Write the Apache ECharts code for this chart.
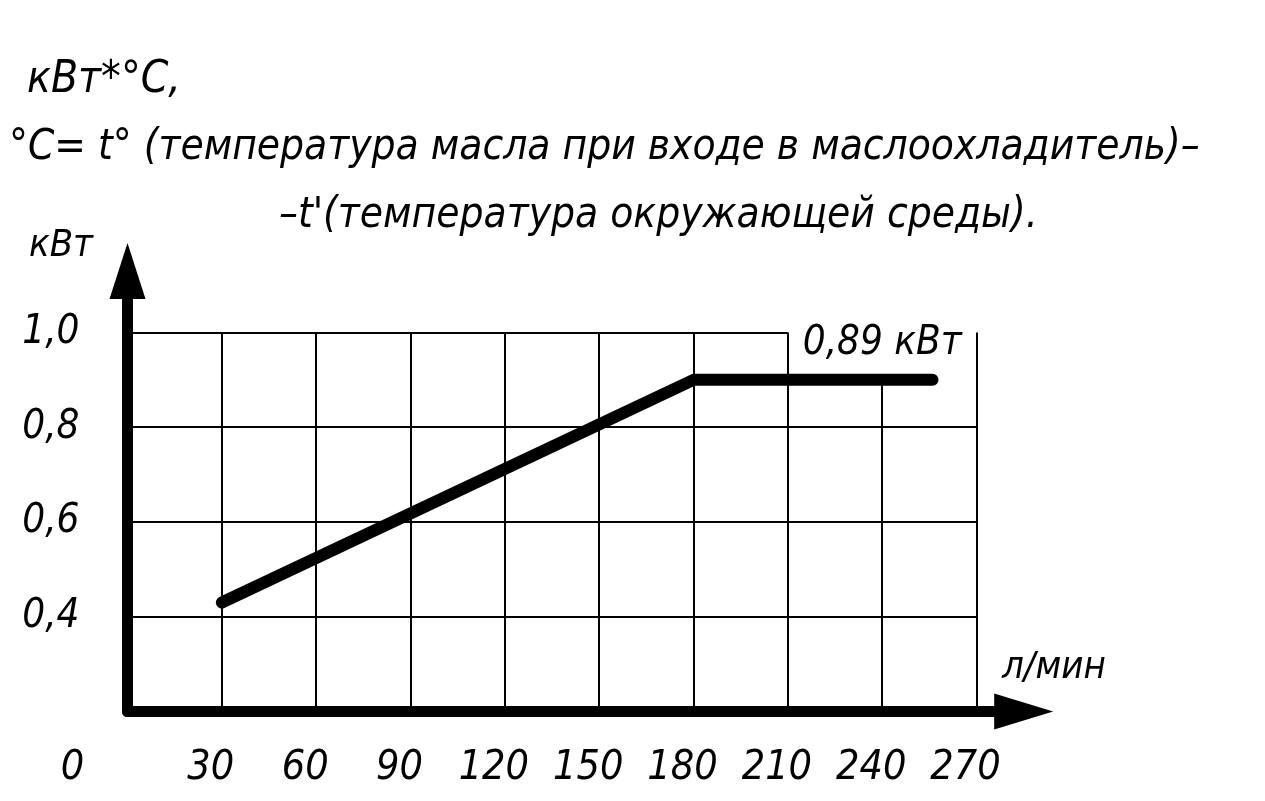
<!DOCTYPE html>
<html>
<head>
<meta charset="utf-8">
<script src="https://cdn.jsdelivr.net/npm/echarts@6/dist/echarts.min.js"></script>
<style>
html,body{margin:0;padding:0;background:#fff;}
#chart{width:1265px;height:801px;}
</style>
</head>
<body>
<div id="chart"></div>
<script>
// ---- data ----
const xTicks = [0, 30, 60, 90, 120, 150, 180, 210, 240, 270];
const yTicks = [0.4, 0.6, 0.8, 1.0];
const flowLpm = [30, 180, 256];
const powerKw = [0.43, 0.90, 0.90];
const ratedLabel = '0,89 кВт';
const ratedAt = [240, 0.90];
const titleLines = [
  'кВт*°С,',
  '°С= t° (температура масла при входе в маслоохладитель)–',
  '–t\'(температура окружающей среды).'
];
const yName = 'кВт';
const xName = 'л/мин';

// ---- styling ----
const FONT = '"DejaVu Sans Condensed", "Liberation Sans Narrow", "Liberation Sans", sans-serif';
const txt = (size) => ({ fontFamily: FONT, fontStyle: 'italic', fontWeight: 'normal', fontSize: size, color: '#000' });

const X_MIN = 0, X_MAX = 285, Y_MIN = 0.2, Y_MAX = 1.13;
const xLast = xTicks[xTicks.length - 1];
const yTop = yTicks[yTicks.length - 1];

// grid lines built from tick arrays (cleared around the rated label)
const gridSegs = [];
xTicks.slice(1).forEach(x => {
  let top = yTop;
  if (x === ratedAt[0]) top = ratedAt[1];
  gridSegs.push([{ coord: [x, Y_MIN] }, { coord: [x, top] }]);
});
yTicks.forEach(y => {
  let right = xLast;
  if (y === yTop) right = 210;
  gridSegs.push([{ coord: [0, y] }, { coord: [right, y] }]);
});

const chart = echarts.init(document.getElementById('chart'), null, { renderer: 'canvas' });
chart.setOption({
  animation: false,
  backgroundColor: '#fff',
  title: [
    { text: titleLines[0], left: 22, top: 54, textStyle: txt(44) },
    { text: titleLines[1], left: 4, top: 122, textStyle: txt(42) },
    { text: titleLines[2], left: 274, top: 190, textStyle: txt(42) },
    { text: yName, left: 24, top: 222, textStyle: txt(38) },
    { text: xName, left: 997, top: 644, textStyle: txt(38) }
  ],
  grid: { left: 127.5, right: 241.3, top: 270.9, bottom: 89.5, containLabel: false },
  xAxis: {
    type: 'value', min: X_MIN, max: X_MAX, interval: 30,
    axisLine: {
      show: true, onZero: false,
      lineStyle: { color: '#000', width: 11 },
      symbol: ['none', 'triangle'], symbolSize: [36, 59]
    },
    axisTick: { show: false },
    splitLine: { show: false },
    axisLabel: {
      margin: 36,
      showMaxLabel: false,
      formatter: v => xTicks.indexOf(v) < 0 ? '' : (v === 0 ? '{z|0}' : '{n|' + v + '}'),
      rich: {
        z: Object.assign(txt(41), { padding: [0, 110, 0, 0] }),
        n: Object.assign(txt(41), { padding: [0, 22, 0, 0] })
      }
    }
  },
  yAxis: {
    type: 'value', min: Y_MIN, max: Y_MAX, interval: 0.2,
    axisLine: {
      show: true, onZero: false,
      lineStyle: { color: '#000', width: 11 },
      symbol: ['none', 'triangle'], symbolSize: [36, 56]
    },
    axisTick: { show: false },
    splitLine: { show: false },
    axisLabel: Object.assign(txt(40), {
      margin: 48,
      showMaxLabel: false,
      formatter: v => {
        const hit = yTicks.find(t => Math.abs(t - v) < 1e-6);
        return hit === undefined ? '' : hit.toFixed(1).replace('.', ',');
      }
    })
  },
  series: [
    {
      type: 'line', data: [], z: 1, silent: true,
      markLine: {
        silent: true, symbol: 'none', animation: false,
        label: { show: false },
        lineStyle: { color: '#000', width: 2, type: 'solid' },
        emphasis: { disabled: true },
        data: gridSegs
      }
    },
    {
      type: 'line', z: 5, silent: true,
      data: flowLpm.map((x, i) => [x, powerKw[i]]),
      showSymbol: false, symbol: 'none',
      lineStyle: { color: '#000', width: 12, cap: 'round', join: 'round' },
      markPoint: {
        symbol: 'circle', symbolSize: 0, silent: true,
        label: Object.assign(txt(40), { show: true, position: 'inside', offset: [0, -36], formatter: ratedLabel }),
        data: [{ coord: ratedAt }]
      }
    }
  ]
});
</script>
</body>
</html>
